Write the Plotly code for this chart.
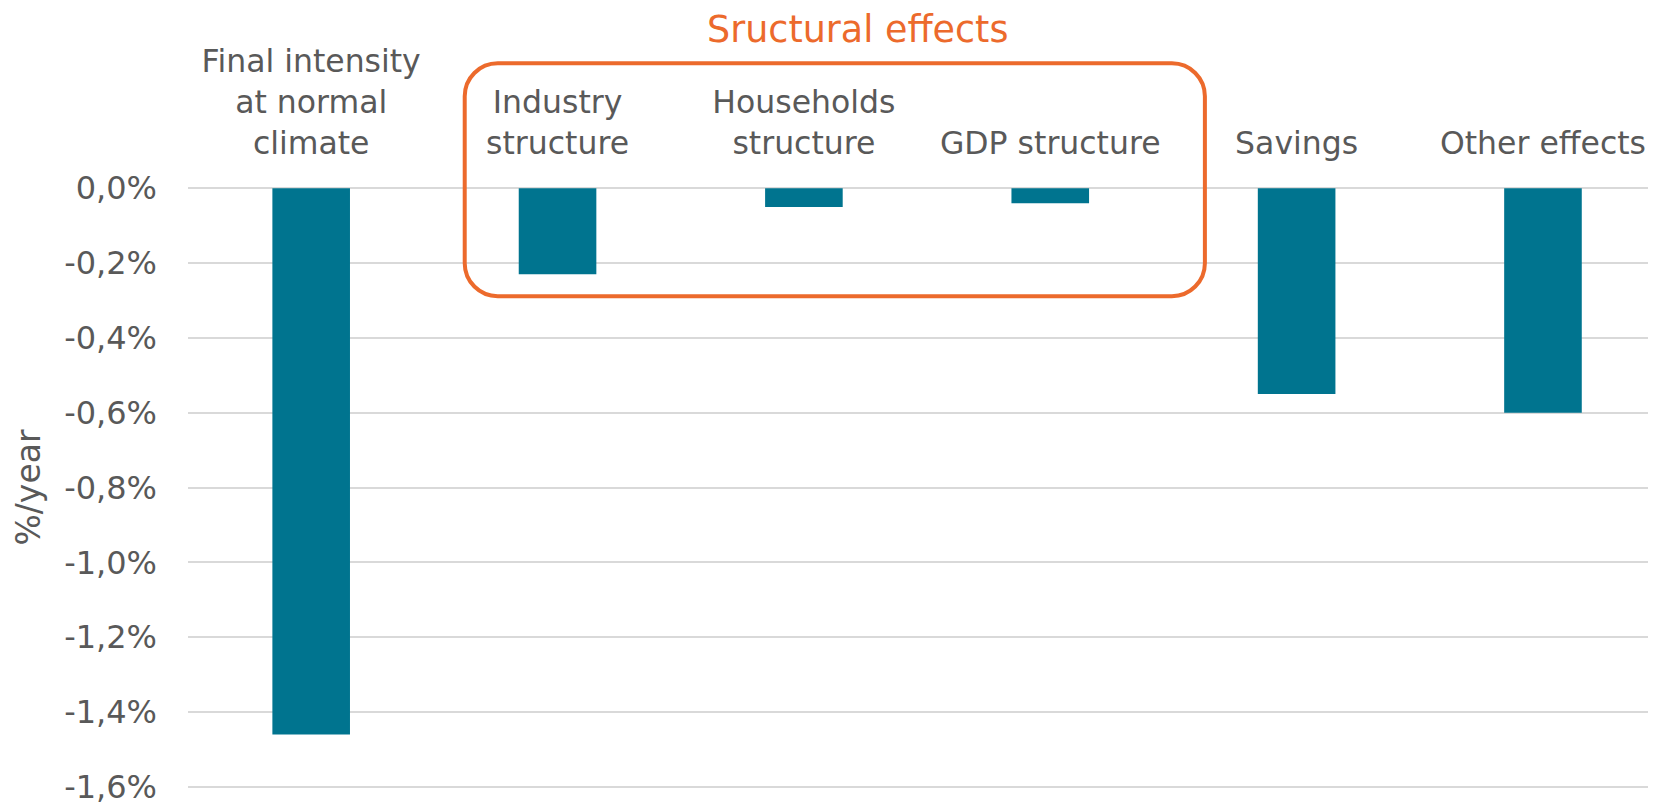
import plotly.graph_objects as go

categories = [
    "Final intensity<br>at normal<br>climate",
    "Industry<br>structure",
    "Households<br>structure",
    "GDP structure",
    "Savings",
    "Other effects",
]
values = [-1.46, -0.23, -0.05, -0.04, -0.55, -0.60]
tick_values = [0.0, -0.2, -0.4, -0.6, -0.8, -1.0, -1.2, -1.4, -1.6]
tick_text = [f"{v:.1f}%".replace(".", ",") for v in tick_values]

BAR = "#00748F"
ORANGE = "#EC6A2C"
TXT = "#595959"
GRID = "#D9D9D9"
FONT = "DejaVu Sans"

# the page body has an 8px margin; compensate so the plot lines up with the window
OFF = 8
VW, VH = 1656, 805
W, H = VW, VH

PAD = 0.006
Y_TOP_REF, Y_BOT_REF = 188.0, 787.0          # screen y of 0% and -1.6%
SCALE = (Y_BOT_REF - Y_TOP_REF) / 1.6
PLOT_TOP = Y_TOP_REF - PAD * SCALE
PLOT_BOT = Y_BOT_REF + PAD * SCALE
PLOT_LEFT = 188.35
PLOT_RIGHT = VW
CAT = 246.3
x_hi = -0.5 + (PLOT_RIGHT - PLOT_LEFT) / CAT

ML = PLOT_LEFT - OFF
MR = W + OFF - PLOT_RIGHT
MT = PLOT_TOP - OFF
MB = H + OFF - PLOT_BOT

def to_paper(sx, sy):
    return ((sx - PLOT_LEFT) / (PLOT_RIGHT - PLOT_LEFT),
            (PLOT_BOT - sy) / (PLOT_BOT - PLOT_TOP))

fig = go.Figure(
    go.Bar(
        x=categories,
        y=values,
        marker=dict(color=BAR, line=dict(width=0)),
        width=0.315,
        hoverinfo="skip",
    )
)

# rounded box around the structural effects
x0, y1 = to_paper(465, 63)
x1, y0 = to_paper(1205, 296)
rx = 33 / (PLOT_RIGHT - PLOT_LEFT)
ry = 33 / (PLOT_BOT - PLOT_TOP)
k = 0.5523
path = (
    f"M {x0+rx},{y1} L {x1-rx},{y1} "
    f"C {x1-rx+k*rx},{y1} {x1},{y1-ry+k*ry} {x1},{y1-ry} "
    f"L {x1},{y0+ry} "
    f"C {x1},{y0+ry-k*ry} {x1-rx+k*rx},{y0} {x1-rx},{y0} "
    f"L {x0+rx},{y0} "
    f"C {x0+rx-k*rx},{y0} {x0},{y0+ry-k*ry} {x0},{y0+ry} "
    f"L {x0},{y1-ry} "
    f"C {x0},{y1-ry+k*ry} {x0+rx-k*rx},{y1} {x0+rx},{y1} Z"
)

tx, ty = to_paper(858, 29)
ax_, ay_ = to_paper(28, 487)

fig.update_layout(
    width=W,
    height=H,
    margin=dict(l=ML, r=MR, t=MT, b=MB, pad=0, autoexpand=False),
    paper_bgcolor="white",
    plot_bgcolor="white",
    showlegend=False,
    font=dict(family=FONT, color=TXT, size=32),
    xaxis=dict(
        type="category",
        side="top",
        range=[-0.5, x_hi],
        showgrid=False,
        showline=False,
        zeroline=False,
        ticks="",
        tickfont=dict(family=FONT, size=31.5, color=TXT),
        ticklabelstandoff=25,
        fixedrange=True,
    ),
    yaxis=dict(
        range=[-1.6 - PAD, PAD],
        tickvals=tick_values,
        ticktext=tick_text,
        showgrid=True,
        gridcolor=GRID,
        gridwidth=1.5,
        zeroline=True,
        zerolinecolor=GRID,
        zerolinewidth=1.5,
        showline=False,
        ticks="",
        tickfont=dict(family=FONT, size=32, color=TXT),
        ticklabelstandoff=30,
        fixedrange=True,
    ),
    shapes=[
        dict(
            type="path",
            xref="paper",
            yref="paper",
            path=path,
            line=dict(color=ORANGE, width=4),
            fillcolor="rgba(0,0,0,0)",
            layer="above",
        )
    ],
    annotations=[
        dict(
            text="Sructural effects",
            x=tx,
            y=ty,
            xref="paper",
            yref="paper",
            xanchor="center",
            yanchor="middle",
            showarrow=False,
            font=dict(family=FONT, size=36.5, color=ORANGE),
        ),
        dict(
            text="%/year",
            x=ax_,
            y=ay_,
            xref="paper",
            yref="paper",
            xanchor="center",
            yanchor="middle",
            textangle=-90,
            showarrow=False,
            font=dict(family=FONT, size=33, color=TXT),
        ),
    ],
)

fig.write_html("out.html")
